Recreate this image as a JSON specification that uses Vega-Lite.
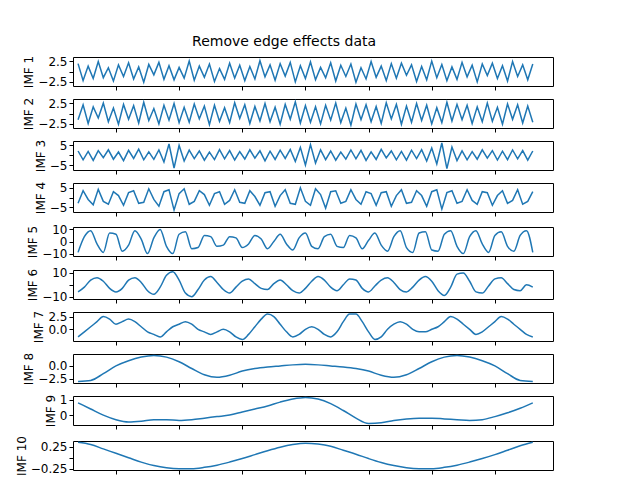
{
  "$schema": "https://vega.github.io/schema/vega-lite/v6.json",
  "padding": {"left": 14, "top": 34, "right": 0, "bottom": 0},
  "title": {"text": "Remove edge effects data", "fontSize": 14, "fontWeight": "normal", "font": "DejaVu Sans", "offset": 6, "anchor": "middle"},
  "spacing": 5,
  "datasets": {
    "hf": [
      {"x":2,"a":1.9,"b":-1.5,"c":2.0,"d":-3.0},{"x":2.4,"a":-2.2,"b":2.1,"c":-2.4,"d":3.5},{"x":2.8,"a":1.3,"b":-2.4,"c":1.8,"d":-1.0},{"x":3.2,"a":-1.7,"b":1.6,"c":-2.7,"d":-3.8},{"x":3.6,"a":2.4,"b":-1.1,"c":2.2,"d":4.2},{"x":4,"a":-1.5,"b":2.5,"c":-1.3,"d":-2.0},{"x":4.4,"a":0.9,"b":-2.0,"c":2.6,"d":-3.5},{"x":4.8,"a":-2.3,"b":1.3,"c":-2.1,"d":3.0},{"x":5.2,"a":1.6,"b":-2.6,"c":1.5,"d":1.0},{"x":5.6,"a":-1.2,"b":2.2,"c":-2.8,"d":-4.0},
      {"x":6,"a":2.1,"b":-1.4,"c":2.3,"d":2.5},{"x":6.4,"a":-1.8,"b":1.9,"c":-1.7,"d":3.5},{"x":6.8,"a":1.1,"b":-2.3,"c":2.9,"d":-3.0},{"x":7.2,"a":-2.6,"b":2.7,"c":-2.4,"d":-2.5},{"x":7.6,"a":1.7,"b":-1.7,"c":1.6,"d":4.5},{"x":8,"a":-0.8,"b":1.2,"c":-2.2,"d":-1.0},{"x":8.4,"a":2.2,"b":-2.5,"c":2.5,"d":-4.5},{"x":8.8,"a":-1.9,"b":2.0,"c":-3.5,"d":3.0},{"x":9.2,"a":1.4,"b":-1.6,"c":5.5,"d":4.0},{"x":9.6,"a":-2.0,"b":2.4,"c":-6.5,"d":-6.5},
      {"x":10,"a":1.0,"b":-2.2,"c":4.8,"d":2.0},{"x":10.4,"a":-1.6,"b":1.5,"c":-3.0,"d":4.5},{"x":10.8,"a":2.5,"b":-2.1,"c":2.4,"d":-3.5},{"x":11.2,"a":-2.1,"b":2.3,"c":-1.8,"d":-2.0},{"x":11.6,"a":1.3,"b":-1.3,"c":2.0,"d":3.5},{"x":12,"a":-1.4,"b":1.8,"c":-2.6,"d":1.5},{"x":12.4,"a":1.8,"b":-2.7,"c":1.4,"d":-4.0},{"x":12.8,"a":-2.4,"b":2.0,"c":-2.3,"d":2.0},{"x":13.2,"a":0.7,"b":-1.9,"c":2.7,"d":3.0},{"x":13.6,"a":-1.9,"b":1.4,"c":-1.9,"d":-3.5},
      {"x":14,"a":2.0,"b":-2.2,"c":2.2,"d":-1.5},{"x":14.4,"a":-1.6,"b":2.6,"c":-2.5,"d":4.0},{"x":14.8,"a":1.5,"b":-1.2,"c":1.7,"d":-2.5},{"x":15.2,"a":-2.2,"b":2.1,"c":-2.0,"d":-3.0},{"x":15.6,"a":1.2,"b":-2.4,"c":2.6,"d":3.5},{"x":16,"a":-1.8,"b":1.7,"c":-1.6,"d":0.5},{"x":16.4,"a":2.6,"b":-1.8,"c":2.1,"d":-4.0},{"x":16.8,"a":-1.3,"b":2.4,"c":-2.9,"d":2.5},{"x":17.2,"a":1.6,"b":-2.0,"c":1.9,"d":3.0},{"x":17.6,"a":-2.1,"b":1.5,"c":-2.2,"d":-4.5},
      {"x":18,"a":1.9,"b":-2.6,"c":2.4,"d":1.0},{"x":18.4,"a":-1.1,"b":2.2,"c":-1.7,"d":4.0},{"x":18.8,"a":2.2,"b":-1.4,"c":2.8,"d":-3.0},{"x":19.2,"a":-2.5,"b":2.8,"c":-3.2,"d":-3.5},{"x":19.6,"a":1.4,"b":-2.3,"c":3.8,"d":5.0},{"x":20,"a":-1.7,"b":1.9,"c":-5.0,"d":-2.0},{"x":20.4,"a":2.3,"b":-2.1,"c":5.2,"d":-4.0},{"x":20.8,"a":-2.0,"b":1.6,"c":-4.0,"d":4.5},{"x":21.2,"a":1.0,"b":-2.5,"c":2.6,"d":1.5},{"x":21.6,"a":-1.5,"b":2.0,"c":-2.3,"d":-5.5},
      {"x":22,"a":2.1,"b":-1.6,"c":2.0,"d":3.0},{"x":22.4,"a":-2.3,"b":2.5,"c":-2.6,"d":3.5},{"x":22.8,"a":1.5,"b":-2.2,"c":1.5,"d":-3.0},{"x":23.2,"a":-1.2,"b":1.3,"c":-2.1,"d":-2.0},{"x":23.6,"a":1.8,"b":-2.8,"c":2.5,"d":4.0},{"x":24,"a":-2.6,"b":2.3,"c":-1.9,"d":-1.0},{"x":24.4,"a":0.9,"b":-1.5,"c":2.3,"d":-3.5},{"x":24.8,"a":-1.8,"b":2.1,"c":-2.7,"d":3.0},{"x":25.2,"a":2.4,"b":-2.0,"c":1.6,"d":2.0},{"x":25.6,"a":-1.4,"b":1.7,"c":-2.2,"d":-4.0},
      {"x":26,"a":1.3,"b":-2.4,"c":2.8,"d":2.5},{"x":26.4,"a":-2.2,"b":2.6,"c":-1.5,"d":3.0},{"x":26.8,"a":1.9,"b":-1.3,"c":2.0,"d":-4.5},{"x":27.2,"a":-1.6,"b":2.2,"c":-2.4,"d":1.0},{"x":27.6,"a":2.0,"b":-2.6,"c":1.8,"d":4.0},{"x":28,"a":-0.9,"b":1.8,"c":-2.6,"d":-3.0},{"x":28.4,"a":1.6,"b":-2.1,"c":2.4,"d":-2.5},{"x":28.8,"a":-2.4,"b":2.4,"c":-1.8,"d":3.5},{"x":29.2,"a":1.2,"b":-1.7,"c":2.7,"d":1.0},{"x":29.6,"a":-2.0,"b":2.0,"c":-3.0,"d":-4.5},
      {"x":30,"a":2.5,"b":-2.5,"c":3.5,"d":3.0},{"x":30.4,"a":-1.5,"b":1.4,"c":-4.5,"d":4.0},{"x":30.8,"a":1.7,"b":-2.2,"c":6.0,"d":-6.0},{"x":31.2,"a":-2.2,"b":2.7,"c":-6.8,"d":2.5},{"x":31.6,"a":1.1,"b":-1.8,"c":4.0,"d":3.5},{"x":32,"a":-1.9,"b":2.2,"c":-2.8,"d":-3.0},{"x":32.4,"a":2.2,"b":-1.5,"c":2.1,"d":-2.0},{"x":32.8,"a":-1.3,"b":2.0,"c":-2.4,"d":4.0},{"x":33.2,"a":1.5,"b":-2.4,"c":1.7,"d":-1.5},{"x":33.6,"a":-2.5,"b":1.6,"c":-2.1,"d":-3.5},
      {"x":34,"a":1.8,"b":-2.0,"c":2.6,"d":3.0},{"x":34.4,"a":-1.0,"b":2.5,"c":-1.6,"d":2.5},{"x":34.8,"a":2.0,"b":-1.9,"c":2.2,"d":-4.0},{"x":35.2,"a":-1.7,"b":1.5,"c":-2.5,"d":1.0},{"x":35.6,"a":1.4,"b":-2.6,"c":1.9,"d":3.5},{"x":36,"a":-2.3,"b":2.3,"c":-2.3,"d":-3.0},{"x":36.4,"a":2.4,"b":-1.4,"c":2.5,"d":-1.5},{"x":36.8,"a":-1.2,"b":2.1,"c":-1.9,"d":4.0},{"x":37.2,"a":1.6,"b":-2.3,"c":2.2,"d":-3.5},{"x":37.6,"a":-2.0,"b":1.8,"c":-2.6,"d":-2.0},{"x":38,"a":1.8,"b":-2.1,"c":2.0,"d":3.0}
    ],
    "mf": [
      {"x":2,"e":-9,"f":-6,"g":-1.5},{"x":2.5,"e":4,"f":-2,"g":-0.5},{"x":3,"e":9,"f":4,"g":0.5},{"x":3.5,"e":-2,"f":6,"g":1.5},{"x":4,"e":-9,"f":3,"g":2.5},{"x":4.5,"e":7,"f":-3,"g":2.0},{"x":5,"e":6,"f":-6,"g":1.0},{"x":5.5,"e":-8,"f":-3,"g":1.5},{"x":6,"e":-3,"f":4,"g":2.0},{"x":6.5,"e":9,"f":6,"g":1.5},
      {"x":7,"e":2,"f":2,"g":0.5},{"x":7.5,"e":-10,"f":-5,"g":-0.5},{"x":8,"e":3,"f":-8,"g":-1.0},{"x":8.5,"e":10,"f":-2,"g":-1.5},{"x":9,"e":-4,"f":8,"g":-0.5},{"x":9.5,"e":-10,"f":11,"g":0.5},{"x":10,"e":6,"f":4,"g":1.0},{"x":10.5,"e":8,"f":-7,"g":1.5},{"x":11,"e":-6,"f":-10,"g":1.0},{"x":11.5,"e":-5,"f":-4,"g":0.0},
      {"x":12,"e":5,"f":4,"g":-0.5},{"x":12.5,"e":4,"f":7,"g":-1.0},{"x":13,"e":-4,"f":2,"g":-0.5},{"x":13.5,"e":-3,"f":-4,"g":0.0},{"x":14,"e":4,"f":-7,"g":-0.5},{"x":14.5,"e":3,"f":-2,"g":-1.5},{"x":15,"e":-5,"f":3,"g":-2.0},{"x":15.5,"e":-2,"f":5,"g":-1.0},{"x":16,"e":5,"f":1,"g":0.5},{"x":16.5,"e":2,"f":-3,"g":2.0},
      {"x":17,"e":-6,"f":-4,"g":3.0},{"x":17.5,"e":0,"f":1,"g":2.5},{"x":18,"e":6,"f":4,"g":1.0},{"x":18.5,"e":-2,"f":0,"g":-0.5},{"x":19,"e":-7,"f":-5,"g":-1.5},{"x":19.5,"e":3,"f":-7,"g":-1.0},{"x":20,"e":7,"f":-3,"g":0.0},{"x":20.5,"e":-4,"f":3,"g":0.5},{"x":21,"e":-6,"f":7,"g":0.0},{"x":21.5,"e":4,"f":4,"g":-1.0},
      {"x":22,"e":6,"f":-2,"g":-1.5},{"x":22.5,"e":-4,"f":-5,"g":-0.5},{"x":23,"e":-5,"f":0,"g":1.5},{"x":23.5,"e":5,"f":5,"g":3.0},{"x":24,"e":3,"f":4,"g":3.0},{"x":24.5,"e":-6,"f":-3,"g":1.5},{"x":25,"e":1,"f":-6,"g":-0.5},{"x":25.5,"e":7,"f":-1,"g":-2.0},{"x":26,"e":-3,"f":4,"g":-1.5},{"x":26.5,"e":-8,"f":6,"g":0.0},
      {"x":27,"e":4,"f":2,"g":1.0},{"x":27.5,"e":9,"f":-4,"g":1.5},{"x":28,"e":-5,"f":-6,"g":1.0},{"x":28.5,"e":-9,"f":-2,"g":0.0},{"x":29,"e":7,"f":4,"g":-0.5},{"x":29.5,"e":8,"f":7,"g":-0.5},{"x":30,"e":-7,"f":3,"g":0.0},{"x":30.5,"e":-8,"f":-5,"g":0.5},{"x":31,"e":6,"f":-9,"g":1.5},{"x":31.5,"e":9,"f":-2,"g":2.5},
      {"x":32,"e":-4,"f":9,"g":2.0},{"x":32.5,"e":-10,"f":10,"g":1.0},{"x":33,"e":4,"f":3,"g":0.0},{"x":33.5,"e":9,"f":-6,"g":-1.0},{"x":34,"e":-2,"f":-7,"g":-0.5},{"x":34.5,"e":-9,"f":-1,"g":0.5},{"x":35,"e":5,"f":5,"g":1.5},{"x":35.5,"e":8,"f":6,"g":2.5},{"x":36,"e":-4,"f":1,"g":2.0},{"x":36.5,"e":-8,"f":-4,"g":1.0},
      {"x":37,"e":5,"f":-5,"g":0.0},{"x":37.5,"e":9,"f":0,"g":-1.0},{"x":38,"e":-9,"f":-2,"g":-1.5}
    ],
    "lf": [
      {"x":2,"h":-3.0,"i":0.8,"j":0.35,"k":0.35},{"x":3,"h":-2.8,"i":0.4,"j":0.30,"k":0.28},{"x":4,"h":-1.5,"i":0.0,"j":0.20,"k":0.22},{"x":5,"h":0.0,"i":-0.3,"j":0.10,"k":0.19},{"x":6,"h":1.0,"i":-0.45,"j":0.0,"k":0.15},{"x":7,"h":1.7,"i":-0.4,"j":-0.10,"k":0.10},{"x":8,"h":2.0,"i":-0.3,"j":-0.18,"k":0.05},{"x":9,"h":1.7,"i":-0.3,"j":-0.23,"k":0.0},{"x":10,"h":0.8,"i":-0.35,"j":-0.25,"k":-0.05},
      {"x":11,"h":-0.5,"i":-0.3,"j":-0.25,"k":-0.10},{"x":12,"h":-1.7,"i":-0.2,"j":-0.22,"k":-0.15},{"x":13,"h":-2.2,"i":-0.1,"j":-0.17,"k":-0.20},{"x":14,"h":-1.8,"i":0.0,"j":-0.10,"k":-0.23},{"x":15,"h":-1.0,"i":0.2,"j":-0.02,"k":-0.26},{"x":16,"h":-0.5,"i":0.4,"j":0.07,"k":-0.28},{"x":17,"h":-0.2,"i":0.6,"j":0.16,"k":-0.30},{"x":18,"h":0.0,"i":0.85,"j":0.24,"k":-0.32},{"x":19,"h":0.2,"i":1.05,"j":0.30,"k":-0.32},
      {"x":20,"h":0.3,"i":1.15,"j":0.33,"k":-0.32},{"x":21,"h":0.2,"i":1.05,"j":0.31,"k":-0.32},{"x":22,"h":0.0,"i":0.75,"j":0.26,"k":-0.31},{"x":23,"h":-0.2,"i":0.3,"j":0.17,"k":-0.30},{"x":24,"h":-0.5,"i":-0.2,"j":0.08,"k":-0.28},{"x":25,"h":-1.0,"i":-0.55,"j":-0.02,"k":-0.26},{"x":26,"h":-1.8,"i":-0.5,"j":-0.11,"k":-0.24},{"x":27,"h":-2.2,"i":-0.35,"j":-0.18,"k":-0.20},{"x":28,"h":-1.7,"i":-0.25,"j":-0.23,"k":-0.15},
      {"x":29,"h":-0.5,"i":-0.2,"j":-0.25,"k":-0.10},{"x":30,"h":0.8,"i":-0.2,"j":-0.25,"k":-0.05},{"x":31,"h":1.7,"i":-0.25,"j":-0.22,"k":0.0},{"x":32,"h":2.0,"i":-0.3,"j":-0.17,"k":0.05},{"x":33,"h":1.7,"i":-0.35,"j":-0.10,"k":0.10},{"x":34,"h":1.0,"i":-0.3,"j":-0.02,"k":0.15},{"x":35,"h":0.0,"i":-0.1,"j":0.07,"k":0.19},{"x":36,"h":-1.5,"i":0.15,"j":0.17,"k":0.22},{"x":37,"h":-2.8,"i":0.45,"j":0.27,"k":0.27},{"x":38,"h":-3.0,"i":0.8,"j":0.35,"k":0.35}
    ]
  },
  "vconcat": [
    {"width":480,"height":29,"data":{"name":"hf"},"mark":{"type":"line","strokeWidth":1.5},"encoding":{"x":{"field":"x","type":"quantitative","scale":{"domain":[1.6,39.6],"nice":false},"axis":{"labels":false,"title":null,"values":[5,10,15,20,25,30,35]}},"y":{"field":"a","type":"quantitative","title":"IMF 1","scale":{"domain":[-3.5,3.5],"nice":false},"axis":{"values":[-2.5,0,2.5],"format":".1f"}}}},
    {"width":480,"height":29,"data":{"name":"hf"},"mark":{"type":"line","strokeWidth":1.5},"encoding":{"x":{"field":"x","type":"quantitative","scale":{"domain":[1.6,39.6],"nice":false},"axis":{"labels":false,"title":null,"values":[5,10,15,20,25,30,35]}},"y":{"field":"b","type":"quantitative","title":"IMF 2","scale":{"domain":[-3.5,3.5],"nice":false},"axis":{"values":[-2.5,0,2.5],"format":".1f"}}}},
    {"width":480,"height":29,"data":{"name":"hf"},"mark":{"type":"line","strokeWidth":1.5},"encoding":{"x":{"field":"x","type":"quantitative","scale":{"domain":[1.6,39.6],"nice":false},"axis":{"labels":false,"title":null,"values":[5,10,15,20,25,30,35]}},"y":{"field":"c","type":"quantitative","title":"IMF 3","scale":{"domain":[-7.5,7],"nice":false},"axis":{"values":[-5,0,5]}}}},
    {"width":480,"height":29,"data":{"name":"hf"},"mark":{"type":"line","strokeWidth":1.5},"encoding":{"x":{"field":"x","type":"quantitative","scale":{"domain":[1.6,39.6],"nice":false},"axis":{"labels":false,"title":null,"values":[5,10,15,20,25,30,35]}},"y":{"field":"d","type":"quantitative","title":"IMF 4","scale":{"domain":[-7.5,7.5],"nice":false},"axis":{"values":[-5,0,5]}}}},
    {"width":480,"height":29,"data":{"name":"mf"},"mark":{"type":"line","strokeWidth":1.5,"interpolate":"monotone"},"encoding":{"x":{"field":"x","type":"quantitative","scale":{"domain":[1.6,39.6],"nice":false},"axis":{"labels":false,"title":null,"values":[5,10,15,20,25,30,35]}},"y":{"field":"e","type":"quantitative","title":"IMF 5","scale":{"domain":[-12,12],"nice":false},"axis":{"values":[-10,0,10]}}}},
    {"width":480,"height":29,"data":{"name":"mf"},"mark":{"type":"line","strokeWidth":1.5,"interpolate":"monotone"},"encoding":{"x":{"field":"x","type":"quantitative","scale":{"domain":[1.6,39.6],"nice":false},"axis":{"labels":false,"title":null,"values":[5,10,15,20,25,30,35]}},"y":{"field":"f","type":"quantitative","title":"IMF 6","scale":{"domain":[-12,12.5],"nice":false},"axis":{"values":[-10,0,10]}}}},
    {"width":480,"height":29,"data":{"name":"mf"},"mark":{"type":"line","strokeWidth":1.5,"interpolate":"monotone"},"encoding":{"x":{"field":"x","type":"quantitative","scale":{"domain":[1.6,39.6],"nice":false},"axis":{"labels":false,"title":null,"values":[5,10,15,20,25,30,35]}},"y":{"field":"g","type":"quantitative","title":"IMF 7","scale":{"domain":[-2.3,3.4],"nice":false},"axis":{"values":[0,2.5],"format":".1f"}}}},
    {"width":480,"height":29,"data":{"name":"lf"},"mark":{"type":"line","strokeWidth":1.5,"interpolate":"monotone"},"encoding":{"x":{"field":"x","type":"quantitative","scale":{"domain":[1.6,39.6],"nice":false},"axis":{"labels":false,"title":null,"values":[5,10,15,20,25,30,35]}},"y":{"field":"h","type":"quantitative","title":"IMF 8","scale":{"domain":[-3.3,2.3],"nice":false},"axis":{"values":[-2.5,0],"format":".1f"}}}},
    {"width":480,"height":29,"data":{"name":"lf"},"mark":{"type":"line","strokeWidth":1.5,"interpolate":"monotone"},"encoding":{"x":{"field":"x","type":"quantitative","scale":{"domain":[1.6,39.6],"nice":false},"axis":{"labels":false,"title":null,"values":[5,10,15,20,25,30,35]}},"y":{"field":"i","type":"quantitative","title":"IMF 9","scale":{"domain":[-0.65,1.25],"nice":false},"axis":{"values":[0,1]}}}},
    {"width":480,"height":29,"data":{"name":"lf"},"mark":{"type":"line","strokeWidth":1.5,"interpolate":"monotone"},"encoding":{"x":{"field":"x","type":"quantitative","scale":{"domain":[1.6,39.6],"nice":false},"axis":{"labels":false,"title":null,"values":[5,10,15,20,25,30,35]}},"y":{"field":"j","type":"quantitative","title":"IMF 10","scale":{"domain":[-0.28,0.38],"nice":false},"axis":{"values":[-0.25,0,0.25],"format":".2f"}}}},
    {"width":480,"height":29,"data":{"name":"lf"},"mark":{"type":"line","strokeWidth":1.5,"interpolate":"monotone"},"encoding":{"x":{"field":"x","type":"quantitative","scale":{"domain":[1.6,39.6],"nice":false},"axis":{"title":null,"values":[5,10,15,20,25,30,35]}},"y":{"field":"k","type":"quantitative","title":"IMF 11","scale":{"domain":[-0.35,0.38],"nice":false},"axis":{"values":[-0.25,0,0.25],"format":".2f"}}}}
  ],
  "config": {
    "font": "DejaVu Sans",
    "view": {"stroke": "black", "strokeWidth": 1},
    "line": {"color": "#1f77b4"},
    "axis": {"grid": false, "domain": false, "tickColor": "black", "labelColor": "black", "labelFontSize": 12, "titleFontSize": 12, "titleFontWeight": "normal", "titleColor": "black", "tickSize": 4, "labelPadding": 2, "titlePadding": 2}
  }
}
